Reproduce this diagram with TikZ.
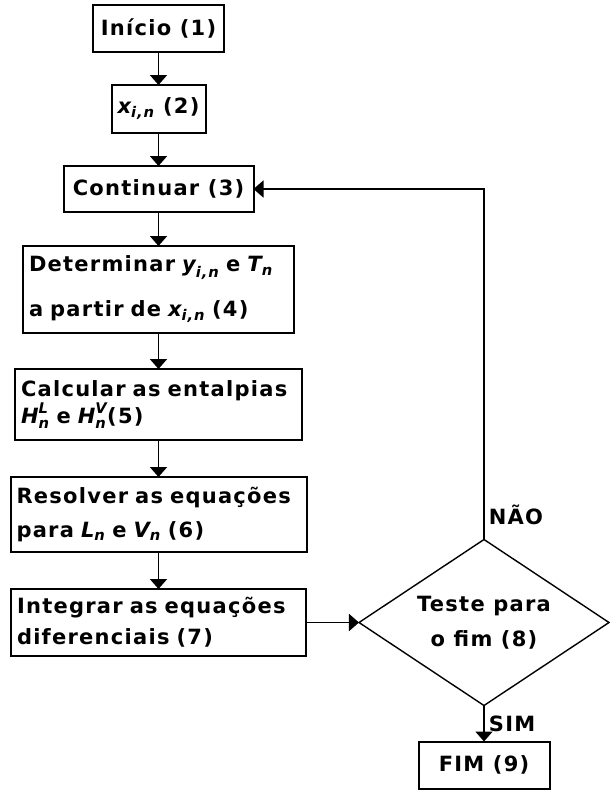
\documentclass[tikz,border=0pt]{standalone}
\usepackage{amsmath}
\usepackage{fontspec}
\setmainfont{DejaVu Sans}[LetterSpace=6]
\usepackage{tikz}
\usetikzlibrary{arrows.meta,positioning,shapes.geometric}

\newcommand{\mv}[1]{\textit{#1}}
\newcommand{\boxfont}{\fontsize{21}{31}\selectfont\bfseries}

\begin{document}
\begin{tikzpicture}[x=1pt, y=1pt,
    box/.style={draw, line width=2pt, align=left, inner xsep=6pt, inner ysep=3pt, outer sep=0pt, font=\boxfont},
    decision/.style={draw, diamond, aspect=1.5, line width=1.4pt, align=center, inner sep=0pt, outer sep=0pt, minimum width=250pt, minimum height=166pt, font=\boxfont},
    tag/.style={font=\boxfont, inner sep=4pt},
    flow/.style={-{Triangle[width=17pt, length=10pt]}, line width=1.8pt}
  ]
    \useasboundingbox (0,0) rectangle (610,-792);

    \node[box, minimum width=131pt, minimum height=47pt] (inicio) at (158.5,-28.5) {Início (1)};
    \node[box, below=33pt of inicio, minimum width=94pt, minimum height=48pt] (xin) {$\mv{x}_{\mv{i,n}}$ (2)};
    \node[box, below=33pt of xin, minimum width=190pt, minimum height=46pt] (cont) {Continuar (3)};
    \node[box, below=34pt of cont, text width=259pt, minimum height=87pt] (determ) {Determinar $\mv{y}_{\mv{i,n}}$ e $\mv{T}_{\mv{n}}$\\[14pt]a partir de $\mv{x}_{\mv{i,n}}$ (4)};
    \node[box, below=36pt of determ, text width=275pt, minimum height=71pt] (calc) {Calcular as entalpias\\[-4pt]$\mv{H}^{\mv{L}}_{\mv{n}}$ e $\mv{H}^{\mv{V}}_{\mv{n}}$(5)};
    \node[box, below=37pt of calc, text width=284pt, minimum height=75pt] (resol) {Resolver as equações\\[3pt]para $\mv{L}_{\mv{n}}$ e $\mv{V}_{\mv{n}}$ (6)};
    \node[box, below=37pt of resol, text width=283pt, minimum height=67pt] (integ) {Integrar as equações\\diferenciais (7)};
    \node[decision, right=53pt of integ] (teste) {Teste para\\[4pt]o fim (8)};
    \node[box, below=36pt of teste, minimum width=131pt, minimum height=47pt] (fim) {FIM (9)};

    \draw[flow] (inicio) -- (xin);
    \draw[flow] (xin) -- (cont);
    \draw[flow] (cont) -- (determ);
    \draw[flow] (determ) -- (calc);
    \draw[flow] (calc) -- (resol);
    \draw[flow] (resol) -- (integ);
    \draw[flow] (integ) -- (teste);
    \draw[flow] (teste) -- node[tag, right]{SIM} (fim);
    \draw[flow] (teste.north) |- node[tag, pos=0.035, right]{NÃO} (cont);
  \end{tikzpicture}
\end{document}
